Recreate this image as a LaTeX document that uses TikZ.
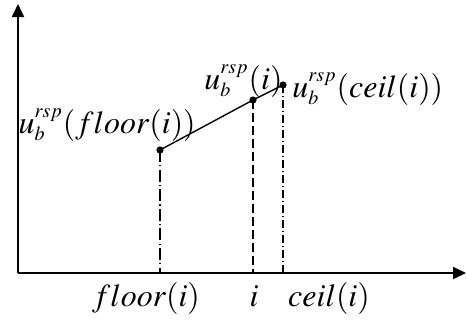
\documentclass[tikz,border=0pt]{standalone}
\usepackage{amsmath}
\usepackage{mathptmx}
\usepackage{tikz}
\usetikzlibrary{arrows.meta,positioning}
\DeclareMathSizes{16}{16}{10}{8}

\begin{document}
\begin{tikzpicture}[
    x=0.5pt, y=-0.5pt,
    axis/.style={line width=0.9pt, -{Triangle[length=6.5pt,width=6pt]}},
    dot/.style={circle, fill, inner sep=0pt, minimum size=3.6pt},
    lbl/.style={inner sep=0pt, font=\fontsize{16}{20}\selectfont},
    floorline/.style={line width=0.6pt, dash pattern=on 6pt off 1.6pt on 0.6pt off 1.6pt},
    iline/.style={line width=0.6pt, dash pattern=on 4.5pt off 2pt},
    ceilline/.style={line width=0.6pt, dash pattern=on 4pt off 1.5pt on 0.5pt off 1.5pt}
]
    \useasboundingbox (0,0) rectangle (466,322);

    % Aksene
    \coordinate (origin) at (18,273);
    \coordinate (ytop) at (18,4);
    \coordinate (xend) at (466,273);
    \draw [axis] (origin) -- (ytop);
    \draw [axis] (origin) -- (xend);

    % Punktene paa linja
    \node [dot] (pfloor) at (160,150) {};
    \node [dot] (pi) at (253,100) {};
    \node [dot] (pceil) at (283,85) {};
    \draw [line width=0.7pt] (pfloor.center) -- (pi.center) -- (pceil.center);

    % Loddrette hjelpelinjer ned til x-aksen
    \draw [floorline] (pfloor.center) -- (pfloor |- origin);
    \draw [iline] (pi.center) -- (pi |- origin);
    \draw [ceilline] (pceil.center) -- (pceil |- origin);

    % Tekst ved punktene
    \node [lbl, anchor=base east] (ufloor) at (196,133) {$u_b^{rsp}(floor(i))$};
    \node [lbl, anchor=base west] (ui) at (204,89) {$u_b^{rsp}(i)$};
    \node [lbl, anchor=base west] (uceil) at (292,97) {$u_b^{rsp}(ceil(i))$};

    % Tekst under x-aksen
    \node [lbl, anchor=base] (xfloor) at (146,306) {$floor(i)$};
    \node [lbl, anchor=base] (xi) at (254,306) {$i$};
    \node [lbl, anchor=base] (xceil) at (329,306) {$ceil(i)$};

\end{tikzpicture}
\end{document}
